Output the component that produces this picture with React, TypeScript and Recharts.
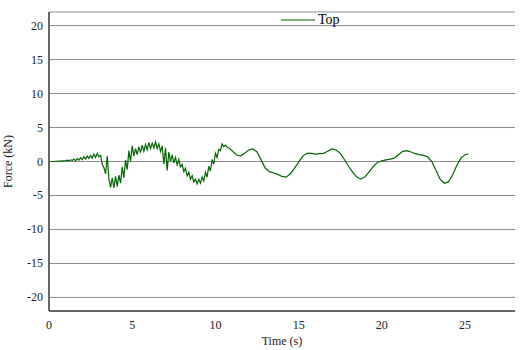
import React from 'react';
import { LineChart, Line, XAxis, YAxis, CartesianGrid, Legend } from 'recharts';

const timeS = [
  0, 0.3, 0.6, 0.9, 1.0, 1.1, 1.2, 1.3, 1.4, 1.5, 1.6, 1.7, 1.8, 1.9, 2.0, 2.1, 2.2, 2.3, 2.4, 2.5,
  2.6, 2.7, 2.8, 2.9, 3.0, 3.1, 3.2, 3.3, 3.4, 3.5, 3.6, 3.7, 3.8, 3.9, 4.0, 4.1, 4.2, 4.3, 4.4, 4.5,
  4.6, 4.7, 4.8, 4.9, 5.0, 5.1, 5.2, 5.3, 5.4, 5.5, 5.6, 5.7, 5.8, 5.9, 6.0, 6.1, 6.2, 6.3, 6.4, 6.5,
  6.6, 6.7, 6.8, 6.9, 7.0, 7.1, 7.2, 7.3, 7.4, 7.5, 7.6, 7.7, 7.8, 7.9, 8.0, 8.1, 8.2, 8.3, 8.4, 8.5,
  8.6, 8.7, 8.8, 8.9, 9.0, 9.1, 9.2, 9.3, 9.4, 9.5, 9.6, 9.7, 9.8, 9.9, 10.0, 10.1, 10.2, 10.3, 10.4, 10.5,
  10.6, 10.7, 10.8, 10.9, 11.0, 11.25, 11.5, 11.75, 12.0, 12.25, 12.5, 12.75, 13.0, 13.25, 13.5, 13.75,
  14.0, 14.25, 14.5, 14.75, 15.0, 15.25, 15.5, 15.75, 16.0, 16.25, 16.5, 16.75, 17.0, 17.25, 17.5, 17.75,
  18.0, 18.25, 18.5, 18.75, 19.0, 19.25, 19.5, 19.75, 20.0, 20.25, 20.5, 20.75, 21.0, 21.25, 21.5, 21.75,
  22.0, 22.25, 22.5, 22.75, 23.0, 23.25, 23.5, 23.75, 24.0, 24.25, 24.5, 24.75, 25.0, 25.2
];

const topForce = [
  0, 0, 0.05, 0.1, 0.1, 0.2, 0.1, 0.25, 0.15, 0.35, 0.1, 0.45, 0.2, 0.55, 0.25, 0.7, 0.35, 0.8, 0.45, 0.9,
  0.5, 1.1, 0.6, 1.2, 0.7, 0.9, -0.4, -0.9, -1.8, 0.8, -2.6, -3.8, -2.4, -3.9, -2.2, -3.7, -2.0, -3.2, -0.8, -2.4,
  0.2, -1.2, 1.6, 0.0, 2.3, 0.8, 1.9, 1.0, 2.2, 1.3, 2.4, 1.5, 2.5, 1.7, 2.8, 1.9, 2.7, 2.0, 2.9, 1.9,
  2.6, 1.5, 2.3, -0.4, 2.0, -1.3, 1.4, 0.0, 1.0, -0.2, 0.6, -0.5, 0.3, -0.8, -0.4, -1.5, -1.0, -2.1, -1.6, -2.6,
  -2.1, -3.0, -2.6, -3.3, -2.6, -3.2, -2.3, -2.9, -1.6, -2.3, -0.7, -1.4, 0.3, -0.4, 1.2, 0.6, 1.8, 1.6, 2.6, 2.2,
  2.4, 2.1, 2.0, 1.8, 1.6, 1.0, 0.8, 1.2, 1.7, 1.85, 1.4, 0.2, -1.0, -1.5, -1.7, -1.9,
  -2.2, -2.3, -1.8, -1.0, -0.1, 0.8, 1.2, 1.2, 1.1, 1.15, 1.2, 1.5, 1.85, 1.7, 1.2, 0.3,
  -0.7, -1.6, -2.3, -2.6, -2.2, -1.5, -0.7, -0.1, 0.1, 0.25, 0.35, 0.5, 1.0, 1.5, 1.6, 1.4,
  1.15, 1.0, 0.9, 0.7, 0.0, -1.3, -2.6, -3.2, -3.0, -2.0, -0.6, 0.5, 1.0, 1.1
];

const xTicks = [0, 5, 10, 15, 20, 25];
const yTicks = [-20, -15, -10, -5, 0, 5, 10, 15, 20];

const chartData = timeS.map((t, i) => ({ time: t, top: topForce[i] }));

const LINE_COLOR = '#006400';
const FONT = '"Liberation Serif", "Times New Roman", serif';

const XTick = ({ x, y, payload }: any) => (
  <text x={x} y={y + 10} textAnchor="middle" fontFamily={FONT} fontSize={12} fill="#222">
    {payload.value}
  </text>
);

const YTick = ({ x, y, payload }: any) => (
  <text x={x} y={y + 4} textAnchor="end" fontFamily={FONT} fontSize={12} fill="#222">
    {payload.value}
  </text>
);

const renderLegend = () => (
  <div style={{ display: 'flex', alignItems: 'center', fontFamily: FONT, fontSize: 14, color: '#000' }}>
    <svg width={37} height={10}>
      <line x1={0} y1={5} x2={34} y2={5} stroke={LINE_COLOR} strokeWidth={1.2} />
    </svg>
    <span>Top</span>
  </div>
);

export default function App() {
  return (
    <div style={{ position: 'absolute', left: 0, top: 0, width: 529, height: 350, background: '#fff', fontFamily: FONT }}>
      <LineChart
        width={529}
        height={350}
        data={chartData}
        margin={{ top: 12, right: 14, bottom: 0, left: 0 }}
        style={{ fontFamily: FONT }}
      >
        <CartesianGrid vertical={false} stroke="#8a8a8a" strokeWidth={1} />
        <XAxis
          dataKey="time"
          type="number"
          domain={[0, 28]}
          ticks={xTicks}
          height={39}
          tickLine={false}
          tickSize={4}
          tickMargin={4}
          axisLine={{ stroke: '#666', strokeWidth: 2 }}
          tick={<XTick />}
          label={{ value: 'Time (s)', position: 'insideBottom', offset: 5, fontSize: 12, fill: '#222' }}
        />
        <YAxis
          type="number"
          domain={[-22, 22]}
          ticks={yTicks}
          width={49}
          tickLine={false}
          tickSize={4}
          tickMargin={2}
          axisLine={{ stroke: '#666', strokeWidth: 2 }}
          tick={<YTick />}
          label={{ value: 'Force (kN)', angle: -90, position: 'insideLeft', offset: 8, style: { textAnchor: 'middle' }, fontSize: 12, fill: '#222' }}
        />
        <Legend
          layout="horizontal"
          verticalAlign="middle"
          align="center"
          wrapperStyle={{ top: 12, left: 281, width: 80, height: 16 }}
          content={renderLegend}
        />
        <Line
          type="linear"
          dataKey="top"
          name="Top"
          stroke={LINE_COLOR}
          strokeWidth={1.2}
          dot={false}
          isAnimationActive={false}
        />
      </LineChart>
    </div>
  );
}
